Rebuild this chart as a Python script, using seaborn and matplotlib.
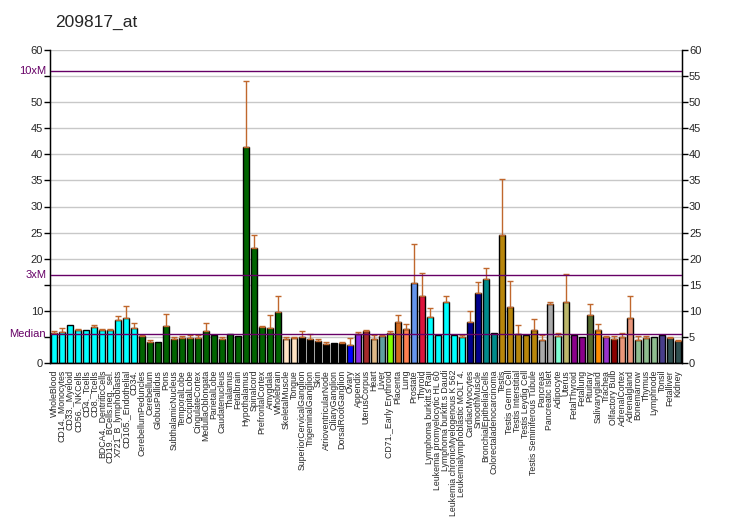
import matplotlib
matplotlib.use("Agg")
import matplotlib.pyplot as plt
import seaborn as sns
import pandas as pd
import numpy as np

categories = ["WholeBlood", "CD14._Monocytes", "CD33._Myeloid", "CD56._NKCells", "CD4._Tcells",
    "CD8._Tcells", "BDCA4._DentriticCells", "CD19._BCells.neg._sel.", "X721_B_lymphoblasts",
    "CD105._Endothelial", "CD34.", "CerebellumPeduncles", "Cerebellum", "GlobusPallidus", "Pons",
    "SubthalamicNucleus", "TemporalLobe", "OccipitalLobe", "CingulateCortex", "MedullaOblongata",
    "ParietalLobe", "Caudatenucleus", "Thalamus", "Fetalbrain", "Hypothalamus", "Spinalcord",
    "PrefrontalCortex", "Amygdala", "Wholebrain", "SkeletalMuscle", "Tongue",
    "SuperiorCervicalGanglion", "TrigeminalGanglion", "Skin", "AtrioventricularNode",
    "CiliaryGanglion", "DorsalRootGanglion", "Ovary", "Appendix", "UterusCorpus", "Heart", "Liver",
    "CD71._Early Erythroid", "Placenta", "Lung", "Prostate", "Thyroid",
    "Lymphoma burkitt.s Raji", "Leukemia promyelocytic HL 60", "Lymphoma burkitt.s Daudi",
    "Leukemia chronicMyelogenous K 562", "Leukemialymphoblastic MOLT 4.", "CardiacMyocytes",
    "SmoothMuscle", "BronchialEpithelialCells", "Colorectaladenocarcinoma", "Testis",
    "Testis Germ Cell", "Testis Interstitial", "Testis Leydig Cell", "Testis Seminiferous Tubule",
    "Pancreas", "Pancreatic Islet", "Adipocyte", "Uterus", "FetalThyroid", "Fetallung", "Pituitary",
    "Salivarygland", "Trachea", "Olfactory Bulb", "AdrenalCortex", "Adrenalgland", "Bonemarrow",
    "Thymus", "Lymphnode", "Tonsil", "Fetalliver", "Kidney"]

values = [5.75, 5.9, 7.3, 6.3, 6.3, 6.9, 6.3, 6.3, 8.2, 8.6, 6.7,
          5.2, 4.0, 4.0, 7.1, 4.6, 4.8, 4.8, 4.8, 6.1, 5.4, 4.6, 5.6, 5.2,
          41.4, 22.0, 6.9, 6.7, 9.8, 4.6, 4.8, 5.0, 4.6, 4.2, 3.6, 3.8, 3.8,
          3.5, 5.6, 6.1, 4.6, 5.2, 5.75, 7.9, 6.5, 15.3, 12.8, 8.8, 5.4, 11.7,
          5.4, 5.0, 7.9, 13.4, 16.1, 5.75, 24.5, 10.7, 5.6, 5.4, 6.3, 4.4,
          11.3, 5.2, 11.7, 5.4, 5.0, 9.2, 6.3, 5.0, 4.6, 5.0, 8.6, 4.4, 4.8,
          5.0, 5.4, 4.8, 4.2]

errors = [0.4, 0.8, 0.0, 0.2, 0.0, 0.3, 0.2, 0.2, 0.8, 2.3, 1.0,
          0.2, 0.4, 0.0, 2.3, 0.4, 0.3, 0.5, 0.5, 1.6, 0.0, 0.4, 0.0, 0.0,
          12.6, 2.5, 0.2, 2.5, 3.0, 0.4, 0.1, 1.1, 1.0, 0.4, 0.4, 0.0, 0.2,
          1.3, 0.3, 0.2, 0.8, 0.2, 0.35, 1.3, 1.0, 7.5, 4.5, 1.7, 0.0, 1.1,
          0.0, 0.4, 2.1, 2.1, 2.1, 0.0, 10.8, 5.0, 1.7, 0.0, 2.1, 1.0,
          0.4, 0.55, 5.4, 0.0, 0.0, 2.1, 1.2, 0.2, 0.6, 0.75, 4.2, 0.8, 0.4,
          0.0, 0.0, 0.2, 0.2]

colors = (["#00FFFF"] * 11 + ["#006400"] * 18 + ["#FFE4C4"] * 2 + ["#000000"] * 6 +
          ["#0000FF", "#8A2BE2", "#A52A2A", "#DEB887", "#5F9EA0", "#7FFF00", "#D2691E",
           "#FF7F50", "#6495ED", "#DC143C"] + ["#00FFFF"] * 5 + ["#00008B"] * 2 +
          ["#008B8B"] * 2 + ["#B8860B"] * 5 + ["#A9A9A9"] * 2 + ["#7FFFD4", "#BDB76B"] +
          ["#8B008B"] * 2 + ["#556B2F", "#FF8C00", "#9932CC", "#8B0000"] + ["#E9967A"] * 2 +
          ["#8FBC8F"] * 3 + ["#483D8B"] + ["#2F4F4F"] * 2)

median = 5.6
yticks = list(range(0, 61, 5))

sns.set_style("white")
plt.rcParams["font.family"] = ["Liberation Sans", "DejaVu Sans"]

df = pd.DataFrame({"tissue": categories, "value": values})

fig = plt.figure(figsize=(7.32, 5.30), dpi=100)
ax = fig.add_axes([50 / 732, 1 - 363 / 530, 632 / 732, 313 / 530])

for t in yticks:
    ax.axhline(t, color="#C8C8C8", lw=1, zorder=0)

sns.barplot(data=df, x="tissue", y="value", hue="tissue", palette=colors, legend=False,
            edgecolor="black", linewidth=1, width=0.75, saturation=1, ax=ax, zorder=2)

pos = np.arange(len(categories))
err = np.array(errors)
vals = np.array(values)
m = err > 0
ax.errorbar(pos[m], vals[m], yerr=[np.zeros(m.sum()), err[m]], fmt="none",
            ecolor="#C0672D", elinewidth=1, capsize=2.0, capthick=1, zorder=3)

purple = "#660066"
for lvl in (median, 3 * median, 10 * median):
    ax.axhline(lvl, color=purple, lw=1, zorder=4)

ax.set_xlim(-0.5, len(categories) - 0.5)
ax.set_ylim(0, 60)
ax.set_xlabel("")
ax.set_ylabel("")
ax.set_yticks(yticks)
ax.set_yticklabels(["" if t in (5, 15, 55) else str(t) for t in yticks], fontsize=8)
ax.set_xticks(pos)
ax.set_xticklabels(categories, rotation=90, fontsize=6.3)
ax.tick_params(axis="both", direction="out", length=4, width=1, color="black", pad=1)
for side in ("left", "bottom", "right"):
    ax.spines[side].set_color("black")
    ax.spines[side].set_linewidth(1)
ax.spines["top"].set_visible(False)

for lvl, lab in ((median, "Median"), (3 * median, "3xM"), (10 * median, "10xM")):
    ax.text(-0.006, lvl, lab, transform=ax.get_yaxis_transform(), ha="right", va="center",
            color=purple, fontsize=8)

ax2 = ax.twinx()
ax2.set_ylim(0, 60)
ax2.set_yticks(yticks)
ax2.set_yticklabels([str(t) for t in yticks], fontsize=8)
ax2.tick_params(axis="y", direction="out", length=4, width=1, color="black", pad=1)
ax2.spines["top"].set_visible(False)
for side in ("left", "bottom", "right"):
    ax2.spines[side].set_color("black")

fig.text(55 / 732, 1 - 22 / 530, "209817_at", fontsize=12.5, ha="left", va="center")

fig.savefig("out.png", dpi=100)
